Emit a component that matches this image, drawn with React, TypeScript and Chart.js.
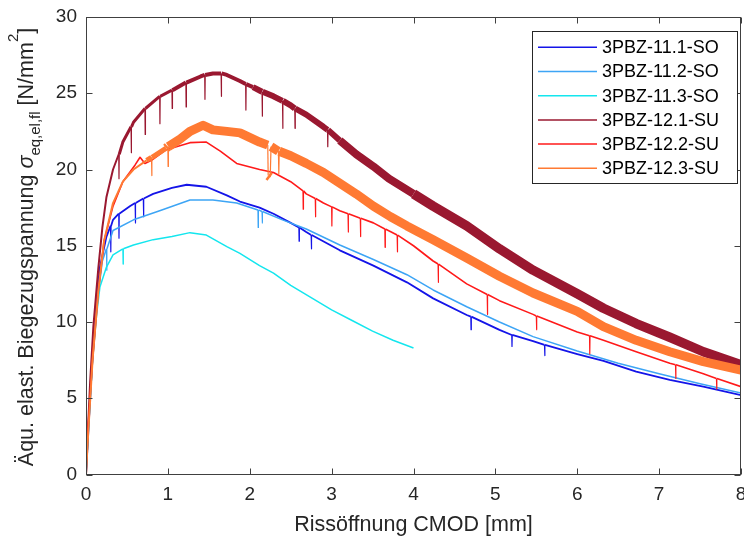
import React, { useEffect, useRef } from 'react';
import { Chart, registerables } from 'chart.js';
Chart.register(...registerables);

const xTicks = [0, 1, 2, 3, 4, 5, 6, 7, 8];
const yTicks = [0, 5, 10, 15, 20, 25, 30];
const seriesLabels = ['3PBZ-11.1-SO', '3PBZ-11.2-SO', '3PBZ-11.3-SO', '3PBZ-12.1-SU', '3PBZ-12.2-SU', '3PBZ-12.3-SU'];
const seriesColors = ['#1414E8', '#3DA5F5', '#14E6EE', '#9A1830', '#FF1A1A', '#FF7A33'];

const s111: [number, number][] = [
  [0, 0], [0.03, 3], [0.08, 7.8], [0.13, 11.5], [0.17, 13.6], [0.25, 15.6], [0.3, 16.3], [0.303, 14.6], [0.306, 16.3],
  [0.33, 16.7], [0.4, 17.1], [0.403, 15.5], [0.406, 17.1], [0.54, 17.6], [0.6, 17.8], [0.603, 16.5], [0.606, 17.8],
  [0.7, 18.1], [0.703, 16.9], [0.706, 18.1], [0.82, 18.4], [1.05, 18.8], [1.23, 19.0], [1.47, 18.87], [1.72, 18.3],
  [1.88, 17.9], [2.12, 17.5], [2.29, 17.1], [2.5, 16.5], [2.6, 16.2], [2.603, 15.3], [2.606, 16.2], [2.69, 15.9],
  [2.75, 15.7], [2.753, 14.8], [2.756, 15.7], [3.1, 14.7], [3.51, 13.7], [3.92, 12.6], [4.24, 11.55], [4.65, 10.46],
  [4.7, 10.35], [4.703, 9.5], [4.706, 10.35], [5.05, 9.48], [5.2, 9.15], [5.203, 8.4], [5.206, 9.15], [5.46, 8.75],
  [5.6, 8.5], [5.603, 7.8], [5.606, 8.5], [6.0, 7.9], [6.32, 7.45], [6.72, 6.74], [7.13, 6.2], [7.54, 5.76], [8.0, 5.2],
];
const s112: [number, number][] = [
  [0, 0], [0.03, 3], [0.08, 7.5], [0.13, 11], [0.2, 14], [0.25, 14.8], [0.253, 13.4], [0.256, 14.8], [0.33, 16.0],
  [0.58, 16.7], [0.9, 17.3], [1.27, 18.0], [1.55, 18.0], [1.84, 17.8], [2.1, 17.35], [2.103, 16.2], [2.106, 17.35],
  [2.15, 17.25], [2.153, 16.5], [2.156, 17.25], [2.4, 16.7], [2.69, 16.1], [3.1, 15.05], [3.51, 14.1], [3.92, 13.1],
  [4.24, 12.1], [4.65, 11.0], [5.05, 10.0], [5.46, 9.04], [6.0, 8.1], [6.5, 7.3], [7.0, 6.6], [7.5, 5.95], [8.0, 5.35],
];
const s113: [number, number][] = [
  [0, 0], [0.03, 3], [0.08, 7.5], [0.13, 10.5], [0.17, 12.3], [0.25, 13.6], [0.33, 14.4], [0.45, 14.8], [0.453, 13.8],
  [0.456, 14.8], [0.58, 15.05], [0.82, 15.4], [1.05, 15.6], [1.27, 15.86], [1.47, 15.7], [1.72, 14.94], [1.88, 14.5],
  [2.12, 13.7], [2.29, 13.2], [2.5, 12.4], [2.75, 11.6], [3.0, 10.8], [3.25, 10.1], [3.5, 9.4], [3.75, 8.8], [4.0, 8.3],
];
const s121: [number, number][] = [
  [0, 0], [0.02, 2.5], [0.05, 6], [0.09, 9.7], [0.15, 13.5], [0.2, 16.2], [0.25, 18.2], [0.33, 20],
  [0.4, 21.0], [0.403, 19.4], [0.406, 21.0], [0.45, 21.8], [0.55, 22.8], [0.553, 21.1], [0.556, 22.8],
  [0.58, 23.1], [0.72, 24.0], [0.723, 22.3], [0.726, 24.0], [0.9, 24.8], [0.903, 23.0], [0.906, 24.8],
  [1.05, 25.2], [1.053, 24.0], [1.056, 25.2], [1.22, 25.7], [1.223, 24.1], [1.226, 25.7],
  [1.4, 26.1], [1.45, 26.2], [1.453, 24.6], [1.456, 26.2], [1.55, 26.3], [1.65, 26.3], [1.653, 24.8], [1.656, 26.3],
  [1.72, 26.2], [1.88, 25.8], [1.95, 25.6], [1.953, 23.9], [1.956, 25.6], [2.04, 25.4], [2.15, 25.1], [2.153, 23.5],
  [2.156, 25.1], [2.29, 24.8], [2.4, 24.5], [2.403, 22.7], [2.406, 24.5], [2.5, 24.2], [2.55, 24.0], [2.553, 22.7],
  [2.556, 24.0], [2.69, 23.6], [2.9, 22.8], [2.95, 22.6], [2.953, 21.5], [2.956, 22.6], [3.1, 21.9], [3.3, 21.0],
  [3.51, 20.2], [3.7, 19.4], [4.0, 18.4], [4.24, 17.6], [4.65, 16.3], [5.05, 14.8], [5.46, 13.4], [6.0, 11.85],
  [6.32, 10.9], [6.72, 9.9], [7.13, 9.0], [7.54, 8.05], [8.0, 7.2],
];
const s122: [number, number][] = [
  [0, 0], [0.003, 1.8], [0.03, 3.5], [0.08, 7.5], [0.15, 12], [0.22, 15.3], [0.33, 17.6], [0.45, 19.2], [0.6, 20.3],
  [0.66, 20.8], [0.72, 20.4], [0.8, 20.6], [0.98, 21.3], [1.27, 21.76], [1.47, 21.8], [1.64, 21.2], [1.84, 20.4],
  [2.12, 20.0], [2.29, 19.8], [2.5, 19.2], [2.65, 18.6], [2.653, 17.4], [2.656, 18.6], [2.69, 18.4], [2.8, 18.1],
  [2.803, 16.9], [2.806, 18.1], [2.9, 17.8], [3.0, 17.55], [3.003, 16.3], [3.006, 17.55], [3.1, 17.3], [3.2, 17.1],
  [3.203, 15.9], [3.206, 17.1], [3.35, 16.8], [3.353, 15.6], [3.356, 16.8], [3.51, 16.5], [3.65, 16.1], [3.653, 14.9],
  [3.656, 16.1], [3.8, 15.7], [3.803, 14.6], [3.806, 15.7], [4.0, 15.0], [4.24, 14.0], [4.3, 13.8], [4.303, 12.6],
  [4.306, 13.8], [4.65, 12.5], [4.9, 11.8], [4.903, 10.5], [4.906, 11.8], [5.05, 11.4], [5.46, 10.5], [5.5, 10.4],
  [5.503, 9.5], [5.506, 10.4], [6.0, 9.35], [6.15, 9.1], [6.153, 7.9], [6.156, 9.1], [6.32, 8.8], [6.72, 8.05],
  [7.13, 7.3], [7.2, 7.2], [7.203, 6.3], [7.206, 7.2], [7.54, 6.6], [7.7, 6.3], [7.703, 5.6], [7.706, 6.3], [8.0, 5.76],
];
const s123: [number, number][] = [
  [0, 0], [0.03, 3], [0.08, 7.5], [0.15, 12], [0.22, 15.3], [0.33, 17.8], [0.45, 19.2], [0.58, 20], [0.74, 20.6],
  [0.8, 20.8], [0.803, 19.6], [0.806, 20.8], [0.98, 21.4], [1.0, 21.5], [1.003, 20.2], [1.006, 21.5],
  [1.15, 22.0], [1.27, 22.5], [1.43, 22.9], [1.55, 22.6], [1.72, 22.5], [1.88, 22.4], [2.12, 21.8],
  [2.22, 21.6], [2.225, 19.6], [2.25, 19.5], [2.26, 21.5], [2.35, 21.2], [2.355, 19.7], [2.36, 21.2],
  [2.5, 20.9], [2.69, 20.4], [2.9, 19.8], [3.1, 19.1], [3.3, 18.4], [3.51, 17.6], [3.72, 16.9], [3.92, 16.3],
  [4.24, 15.4], [4.65, 14.2], [5.05, 13.0], [5.46, 11.9], [6.0, 10.7], [6.32, 9.7], [6.72, 8.8], [7.13, 8.05],
  [7.54, 7.4], [8.0, 6.85],
];
const seriesData = [s111, s112, s113, s121, s122, s123];

// line widths by x-range (style only)
const widthBands: [number, number][][] = [
  [[99, 1.8]],
  [[99, 1.5]],
  [[99, 1.5]],
  [[0.35, 2], [1.0, 3], [2.0, 4], [3.0, 6], [4.0, 8], [99, 9.5]],
  [[99, 1.6]],
  [[0.7, 2], [0.9, 5], [99, 9]],
];

const FONT = "'Liberation Sans', Arial, sans-serif";
const AXIS = '#262626';

const framePlugin = {
  id: 'matlabFrame',
  afterDraw(chart: any) {
    const { ctx, chartArea: a, scales } = chart;
    ctx.save();
    ctx.strokeStyle = '#404040';
    ctx.lineWidth = 1;
    const L = Math.round(a.left) + 0.5, R = Math.round(a.right) - 0.5;
    const T = Math.round(a.top) + 0.5, B = Math.round(a.bottom) - 0.5;
    ctx.beginPath();
    for (const v of xTicks) {
      const px = Math.round(scales.x.getPixelForValue(v)) + 0.5;
      ctx.moveTo(px, B); ctx.lineTo(px, B - 6);
      ctx.moveTo(px, T); ctx.lineTo(px, T + 6);
    }
    for (const v of yTicks) {
      const py = Math.round(scales.y.getPixelForValue(v)) + 0.5;
      ctx.moveTo(L, py); ctx.lineTo(L + 6, py);
      ctx.moveTo(R, py); ctx.lineTo(R - 6, py);
    }
    ctx.stroke();
    ctx.strokeRect(L, T, R - L, B - T);

    // legend
    const lx = 532.5, ly = 31.5, lw = 205, lh = 152;
    ctx.fillStyle = '#ffffff';
    ctx.fillRect(lx, ly, lw, lh);
    ctx.strokeStyle = '#262626';
    ctx.strokeRect(lx, ly, lw, lh);
    ctx.font = `18px ${FONT}`;
    ctx.textBaseline = 'middle';
    ctx.textAlign = 'left';
    seriesLabels.forEach((lab, i) => {
      const y = 47.3 + i * 24.2;
      ctx.strokeStyle = seriesColors[i];
      ctx.lineWidth = 1.5;
      ctx.beginPath(); ctx.moveTo(538, y); ctx.lineTo(597, y); ctx.stroke();
      ctx.fillStyle = '#000000';
      ctx.fillText(lab, 602, y + 1);
    });

    // x title
    ctx.fillStyle = AXIS;
    ctx.font = `21.5px ${FONT}`;
    ctx.textAlign = 'center';
    ctx.textBaseline = 'alphabetic';
    ctx.fillText('Rissöffnung CMOD [mm]', (a.left + a.right) / 2, 530.5);

    // y title (rotated, with sub/superscript)
    const parts = [
      { t: 'Äqu. elast. Biegezugspannung ', f: `21.5px ${FONT}`, dy: 0 },
      { t: 'σ', f: `italic 21.5px ${FONT}`, dy: 0 },
      { t: 'eq,el,fl', f: `15px ${FONT}`, dy: 7 },
      { t: ' [N/mm', f: `21.5px ${FONT}`, dy: 0 },
      { t: '2', f: `15px ${FONT}`, dy: -15 },
      { t: ']', f: `21.5px ${FONT}`, dy: 0 },
    ];
    let total = 0;
    const widths = parts.map((p) => { ctx.font = p.f; const w = ctx.measureText(p.t).width; total += w; return w; });
    ctx.translate(33, 247);
    ctx.rotate(-Math.PI / 2);
    ctx.textAlign = 'left';
    let x = -total / 2;
    parts.forEach((p, i) => {
      ctx.font = p.f;
      ctx.fillText(p.t, x, p.dy);
      x += widths[i];
    });
    ctx.restore();
  },
};

export default function App() {
  const ref = useRef<HTMLCanvasElement>(null);
  useEffect(() => {
    const datasets = seriesData.map((d, i) => ({
      label: seriesLabels[i],
      data: d.map(([x, y]) => ({ x, y })),
      borderColor: seriesColors[i],
      backgroundColor: seriesColors[i],
      borderWidth: widthBands[i][0][1],
      pointRadius: 0,
      tension: 0,
      borderJoinStyle: 'round' as const,
      order: 5 - i,
      segment: {
        borderWidth: (ctx: any) => {
          const x0 = ctx.p0.parsed.x, x1 = ctx.p1.parsed.x;
          if (x1 - x0 < 0.01) return 1.2;
          for (const [xm, w] of widthBands[i]) if (x0 < xm) return w;
          return undefined;
        },
      },
    }));
    const chart = new Chart(ref.current!, {
      type: 'line',
      data: { datasets },
      options: {
        responsive: false,
        animation: false,
        devicePixelRatio: 1,
        layout: { padding: { left: 0, right: 3, top: 17, bottom: 0 } },
        plugins: { legend: { display: false }, tooltip: { enabled: false } },
        scales: {
          x: {
            type: 'linear', min: 0, max: 8,
            grid: { display: false, drawTicks: false },
            border: { display: false },
            ticks: { stepSize: 1, padding: 9, color: AXIS, font: { family: FONT, size: 19 } },
            afterFit: (s: any) => { s.height = 63.5; s.paddingLeft = 0; s.paddingRight = 0; },
          },
          y: {
            type: 'linear', min: 0, max: 30,
            grid: { display: false, drawTicks: false },
            border: { display: false },
            ticks: { stepSize: 5, padding: 9, color: AXIS, font: { family: FONT, size: 19 } },
            afterFit: (s: any) => { s.width = 86; s.paddingTop = 0; s.paddingBottom = 0; },
          },
        },
      },
      plugins: [framePlugin],
    });
    return () => chart.destroy();
  }, []);
  return (
    <div style={{ position: 'fixed', left: 0, top: 0, width: 744, height: 538, background: '#ffffff' }}>
      <canvas ref={ref} width={744} height={538} style={{ display: 'block' }} />
    </div>
  );
}
